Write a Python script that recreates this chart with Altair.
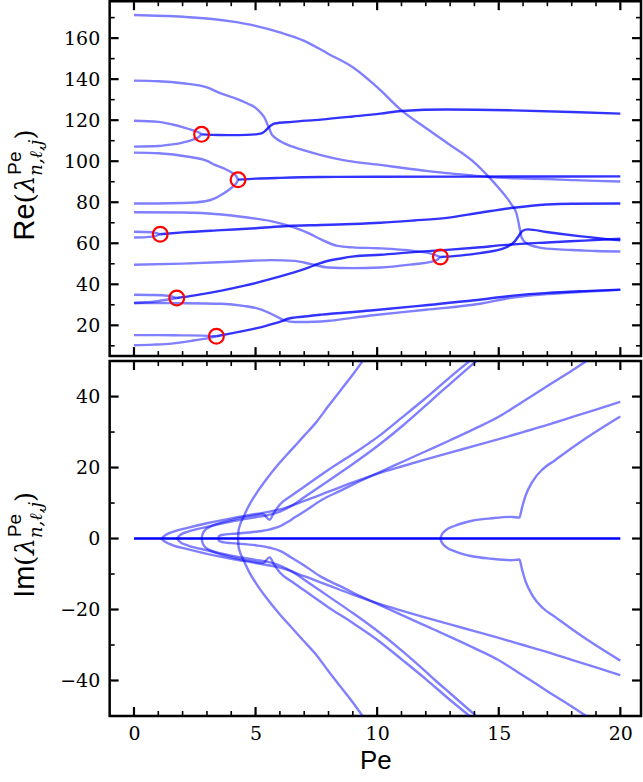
import altair as alt
import pandas as pd

# ---------------- data ----------------
# Real part: single real eigenvalues (light curves)
RE_LIGHT = {
    "A":    ([0, 2, 4, 5, 6, 7, 8, 9, 10, 11, 12, 13, 14, 14.57, 15, 15.5, 15.73, 15.87, 15.94, 16.14, 16.69, 17.5, 18.3, 19, 20],
             [171.3, 170.4, 168.2, 166, 162.8, 158.7, 152.3, 145.8, 136.1, 124.8, 116.2, 107.9, 99.3, 92.6, 86.9, 79.3, 74.5, 66.8, 62.8, 60, 57.9, 57, 56.6, 56.2, 56]),
    "B":    ([0, 1, 2, 3, 3.6, 4.2, 4.69, 5.0, 5.24, 5.4, 5.5, 5.58, 5.64, 5.8, 6.05, 6.5, 7, 7.69, 8.5, 9, 10.14, 11, 12, 12.87, 14, 14.64, 16, 16.96, 18, 19, 20],
             [139.3, 139, 138, 136, 132.9, 130.5, 128, 126, 123.2, 120.5, 117.6, 115.5, 113.6, 111.5, 109.5, 107.2, 105.3, 103, 100.8, 99.8, 98.2, 96.8, 95.3, 94.2, 93, 92.3, 91.6, 91.3, 90.8, 90.4, 90.1]),
    "u120": ([0, 1, 1.58, 2, 2.4, 2.65, 2.78], [119.7, 119.2, 117.9, 116.6, 115.2, 114.1, 113.1]),
    "l107": ([0, 1, 1.58, 2, 2.4, 2.65, 2.78], [107.1, 107.4, 108.2, 109.1, 110.4, 111.7, 113.1]),
    "u104": ([0, 1, 2.24, 3.0, 3.33, 3.7, 4.0, 4.2, 4.28], [104.2, 103.9, 102.2, 100.2, 98.2, 96.5, 94.6, 92.8, 91]),
    "l79":  ([0, 1, 2, 2.92, 3.3, 3.6, 4.08, 4.2, 4.28], [79.4, 79.4, 79.6, 80.5, 81.8, 83.7, 87.7, 89.2, 91]),
    "u66":  ([0, 0.5, 0.9, 1.08], [65.6, 65.5, 65.1, 64.4]),
    "l63":  ([0, 0.5, 0.9, 1.08], [62.8, 63.0, 63.6, 64.4]),
    "c75":  ([0, 2, 3.6, 4.5, 5.64, 6.6, 7.2, 7.69, 8.37, 9, 10, 11.5, 12.2, 12.6],
             [75.1, 75, 74, 72.8, 70.8, 67.6, 64.8, 61.9, 58.7, 58, 57.6, 56.3, 55, 53.3]),
    "c49":  ([0, 2, 4, 5.64, 6.6, 7.3, 7.97, 9, 10.14, 11.5, 12.2, 12.5, 12.6],
             [49.5, 50.1, 51, 51.8, 51.4, 49.8, 48.2, 47.9, 48.2, 49.8, 50.9, 52.2, 53.3]),
    "u35":  ([0, 0.8, 1.4, 1.76], [34.9, 34.8, 34.4, 33.3]),
    "l31":  ([0, 0.87, 1.42, 1.76], [30.9, 31.6, 32.6, 33.3]),
    "c30":  ([0, 2, 3.6, 4.5, 5.24, 5.78, 6.2, 6.6, 7.69, 9.73, 12, 14.23, 15.5, 17, 18.5, 20],
             [30.9, 30.8, 30.5, 29.5, 27.7, 24.8, 22.4, 21.6, 21.9, 24.8, 27.6, 30.5, 33.4, 35.2, 36.4, 37.3]),
    "u15":  ([0, 1, 2, 2.8, 3.39], [15.2, 15.2, 15.1, 15.0, 14.7]),
    "l10":  ([0, 0.8, 1.55, 2.5, 3.05, 3.39], [10.3, 10.6, 11.1, 12.7, 13.8, 14.7]),
}

# Real part: complex-conjugate pairs (two coincident curves -> darker)
RE_DARK = {
    "P3": ([2.78, 3.5, 4.28, 5, 5.24, 5.4, 5.5, 5.64, 5.78, 6.5, 7.69, 9, 10.14, 11, 12.87, 15.6, 18, 20],
           [113.1, 112.8, 112.7, 113.1, 113.6, 114.8, 116, 117.5, 118.4, 119.2, 120.3, 121.8, 123.2, 124.5, 125.2, 124.8, 124, 123.2]),
    "P5": ([4.28, 5, 6, 7.69, 10, 14, 20], [91, 91.5, 91.9, 92.3, 92.4, 92.5, 92.6]),
    "P1": ([1.08, 2, 3.6, 5, 6.33, 7.69, 9, 10.14, 11.5, 12.87, 14.23, 15.6, 16.96, 18, 20],
           [64.4, 65.3, 66.4, 67.3, 68.4, 68.9, 69.4, 70, 71.1, 72.4, 74.9, 77.3, 78.9, 79.3, 79.4]),
    "P2": ([1.76, 2.5, 3.6, 4.5, 5.64, 6.3, 7, 7.84, 8.5, 9.05, 10.14, 11.5, 12.87, 14, 15.3, 17, 18.5, 20],
           [33.3, 34.6, 36.9, 39.2, 42.6, 44.8, 47.4, 51, 52.6, 53.6, 54.4, 55.7, 56.8, 57.8, 59.2, 60.4, 61.3, 62.2]),
    "P4": ([3.39, 4, 4.96, 5.5, 6.05, 6.33, 7, 7.69, 9.73, 12, 14, 15.6, 17, 18.5, 20],
           [14.7, 16.1, 18.4, 20, 21.9, 23.2, 24.3, 25.2, 27.2, 29.8, 32.2, 34.5, 35.8, 36.7, 37.4]),
    "P6": ([12.6, 13.4, 14.23, 15.3, 15.65, 15.84, 15.97, 16.2, 16.96, 18.3, 20],
           [53.3, 54, 55.2, 58, 60.8, 63.9, 66, 66.8, 65.5, 63.5, 61.4]),
}

# Collision (exceptional) points marked with red circles
EP_PE = [1.08, 1.76, 2.78, 3.39, 4.28, 12.6]
EP_RE = [64.4, 33.3, 113.1, 14.7, 91.0, 53.3]

# Imaginary part: upper branches (lower branches are their conjugates)
IM_UPPER = {
    "P1": ([1.12, 1.3, 1.6, 2.2, 3, 4, 5, 6, 7, 8, 9, 10, 11, 12, 13, 14, 15, 16, 17, 18, 19, 20],
           [0, 1.0, 1.9, 3.0, 4.3, 5.7, 6.9, 8.2, 10.6, 13.2, 15.8, 18.2, 20.3, 22.3, 24.2, 26.1, 28, 30, 32, 34.2, 36.3, 38.5]),
    "P2": ([1.76, 1.9, 2.2, 3, 4, 5, 5.5, 6, 6.5, 7, 8, 9, 10, 11, 12, 12.4, 13, 14.07],
           [0, 1.0, 1.9, 3.3, 4.8, 6.0, 6.6, 7.6, 9.3, 11.6, 16.3, 21, 26, 31.5, 37.5, 40, 43.6, 50]),
    "P3": ([2.78, 2.82, 2.9, 3.1, 3.5, 4, 4.5, 5, 5.3, 5.58, 5.75, 6, 6.5, 7, 8, 9, 10, 11, 12, 13, 13.8],
           [0, 1.2, 2.2, 3.2, 4.3, 5.2, 6.0, 6.6, 6.9, 5.3, 7.2, 9.6, 12.2, 14.6, 19.4, 23.8, 28.5, 34, 39.6, 45.5, 50]),
    "P4": ([3.46, 3.5, 3.7, 4, 5, 5.6, 6.05, 6.3, 6.6, 7, 7.7, 8.5, 9, 10, 11, 12, 13, 14, 15, 16, 17, 18, 18.6],
           [0, 0.7, 1.1, 1.3, 1.9, 2.6, 3.6, 4.6, 5.9, 7.6, 10.8, 13.5, 15.2, 18.4, 21.5, 24.6, 27.7, 30.9, 34.3, 38.6, 43, 47.3, 50]),
    "P5": ([4.28, 4.3, 4.35, 4.5, 4.75, 5, 5.5, 6, 6.5, 7, 7.5, 8, 8.5, 9, 9.4],
           [0, 2.2, 3.6, 6.0, 9.6, 12.4, 17.2, 21.4, 25.2, 29, 32.8, 37.4, 41.8, 46.2, 50]),
    "P6": ([12.6, 12.65, 12.8, 13.2, 13.9, 14.7, 15.5, 15.85, 15.95, 16.1, 16.4, 16.8, 17.3, 18.4, 19.2, 20],
           [0, 1.0, 2.2, 3.6, 5.0, 5.7, 6.1, 5.9, 8.5, 12, 16.2, 19.5, 22, 27.4, 31, 34.4]),
}
IM_ZERO_PE = [0, 20]
IM_ZERO_V = [0, 0]

# Axis ticks
X_MAJOR = [0, 5, 10, 15, 20]
X_MINOR = [1, 2, 3, 4, 6, 7, 8, 9, 11, 12, 13, 14, 16, 17, 18, 19]
RE_MAJOR = [20, 40, 60, 80, 100, 120, 140, 160]
RE_MINOR = [10, 30, 50, 70, 90, 110, 130, 150, 170]
IM_MAJOR = [-40, -20, 0, 20, 40]
IM_MINOR = [-30, -10, 10, 30]

TOP_TITLE = ["Re", "(", "λ", "Pe", "n,ℓ,j", ")"]
BOT_TITLE = ["Im", "(", "λ", "Pe", "n,ℓ,j", ")"]

# ---------------- helpers ----------------
W, H = 533, 356
XS = alt.Scale(domain=[-1, 20.85], nice=False, zero=False)
YS_RE = alt.Scale(domain=[5, 178], nice=False, zero=False)
YS_IM = alt.Scale(domain=[-50, 50], nice=False, zero=False)
BLUE = "#0000ff"
SERIF = "DejaVu Serif"
SANS = "Liberation Sans"
LFS = 19

re_axis = alt.Axis(values=RE_MAJOR, ticks=False, tickSize=0, domain=False, grid=False,
                   labelFont=SERIF, labelFontSize=LFS, labelPadding=10, labelColor="black", title=None)
im_axis = alt.Axis(values=IM_MAJOR, ticks=False, tickSize=0, domain=False, grid=False,
                   labelFont=SERIF, labelFontSize=LFS, labelPadding=10, labelColor="black", title=None)
x_axis = alt.Axis(values=X_MAJOR, ticks=False, tickSize=0, domain=False, grid=False,
                  labelFont=SERIF, labelFontSize=LFS, labelPadding=9, labelColor="black",
                  title="Pe", titleFont=SANS, titleFontSize=26, titleFontWeight="normal",
                  titlePadding=4, titleColor="black")


def to_df(d, sign=1, suffix=""):
    rows = []
    for name, (xs, ys) in d.items():
        for i, (x, y) in enumerate(zip(xs, ys)):
            rows.append({"curve": name + suffix, "i": i, "pe": x, "v": sign * y})
    return pd.DataFrame(rows)


def X(field, xaxis):
    if xaxis is None:
        return alt.X(field, scale=XS, axis=None, title=None)
    return alt.X(field, scale=XS, axis=xaxis, title="Pe")


def Y(field, yscale, yaxis):
    return alt.Y(field, scale=yscale, axis=yaxis, title=None)


def lines(df, yscale, xaxis, yaxis, opacity):
    return alt.Chart(df).mark_line(
        color=BLUE, opacity=opacity, strokeWidth=2.4, interpolate="monotone", clip=True
    ).encode(
        x=X("pe:Q", xaxis),
        y=Y("v:Q", yscale, yaxis),
        detail="curve:N",
        order="i:Q",
    )


def tick_layers(yscale, yaxis, xaxis, ymaj, ymin):
    layers = []
    for vals, L, sw in [(X_MAJOR, 9, 2.2), (X_MINOR, 5, 1.6)]:
        d = pd.DataFrame({"pe": vals})
        b = alt.Chart(d).mark_rule(color="black", strokeWidth=sw)
        layers.append(b.encode(x=X("pe:Q", xaxis), y=alt.value(H - L), y2=alt.value(H)))
        layers.append(b.encode(x=X("pe:Q", xaxis), y=alt.value(1), y2=alt.value(L)))
    for vals, L, sw in [(ymaj, 9, 2.2), (ymin, 5, 1.6)]:
        d = pd.DataFrame({"v": vals})
        b = alt.Chart(d).mark_rule(color="black", strokeWidth=sw)
        layers.append(b.encode(y=Y("v:Q", yscale, yaxis), x=alt.value(1), x2=alt.value(L)))
        layers.append(b.encode(y=Y("v:Q", yscale, yaxis), x=alt.value(W - L), x2=alt.value(W - 1)))
    return layers


def title_layers(pieces):
    head, lp, lam, sup, sub, rp = pieces
    fs, fss = 29, 18
    w_head = 37 if head == "Re" else 32
    w = [w_head, 11, 17, 36, 11]
    total = sum(w)
    start = -total / 2
    specs = [
        (head, SANS, "normal", fs, start, 0),
        (lp, SERIF, "normal", fs - 2, start + w[0], 0),
        (lam, SERIF, "italic", fs - 2, start + w[0] + w[1], 0),
        (sup, SANS, "normal", fss + 1, start + w[0] + w[1] + w[2] + 1, -13),
        (sub, SERIF, "italic", fss, start + w[0] + w[1] + w[2], 8),
        (rp, SERIF, "normal", fs - 2, start + w[0] + w[1] + w[2] + w[3], 0),
    ]
    out = []
    for txt, font, style, size, dx, dy in specs:
        d = pd.DataFrame({"s": [txt]})
        out.append(
            alt.Chart(d).mark_text(
                font=font, fontStyle=style, fontSize=size, angle=270, align="left",
                baseline="alphabetic", dx=dx, dy=dy, color="black"
            ).encode(text="s:N", x=alt.value(-76), y=alt.value(H / 2 + 6))
        )
    return out


# ---------------- top panel: real part ----------------
top_layers = [
    lines(to_df(RE_LIGHT), YS_RE, None, re_axis, 0.5),
    lines(to_df(RE_DARK), YS_RE, None, re_axis, 0.8),
    alt.Chart(pd.DataFrame({"pe": EP_PE, "v": EP_RE})).mark_point(
        shape="circle", filled=False, color="red", size=220, strokeWidth=2.2, opacity=1
    ).encode(x=X("pe:Q", None), y=Y("v:Q", YS_RE, re_axis)),
] + tick_layers(YS_RE, re_axis, None, RE_MAJOR, RE_MINOR) + title_layers(TOP_TITLE)

top = alt.layer(*top_layers).properties(width=W, height=H)

# ---------------- bottom panel: imaginary part ----------------
im_df = pd.concat([to_df(IM_UPPER, 1, "_u"), to_df(IM_UPPER, -1, "_l")], ignore_index=True)
zero_df = pd.DataFrame({"curve": ["zero", "zero"], "i": [0, 1], "pe": IM_ZERO_PE, "v": IM_ZERO_V})

bot_layers = [
    lines(im_df, YS_IM, x_axis, im_axis, 0.5),
    lines(zero_df, YS_IM, x_axis, im_axis, 1.0),
] + tick_layers(YS_IM, im_axis, x_axis, IM_MAJOR, IM_MINOR) + title_layers(BOT_TITLE)

bottom = alt.layer(*bot_layers).properties(width=W, height=H)

chart = alt.vconcat(top, bottom, spacing=0).properties(
    padding={"left": 4, "top": -2, "right": 0, "bottom": 0},
    background="white",
).configure_view(
    stroke="black", strokeWidth=2.5
).configure_concat(
    spacing=0
).configure_axis(
    labelFont=SERIF, labelFontSize=LFS, labelColor="black", titleFont=SANS, titleFontSize=26,
    titleFontWeight="normal", titleColor="black"
)

chart.save("out.html", embed_options={"renderer": "svg", "actions": False})
